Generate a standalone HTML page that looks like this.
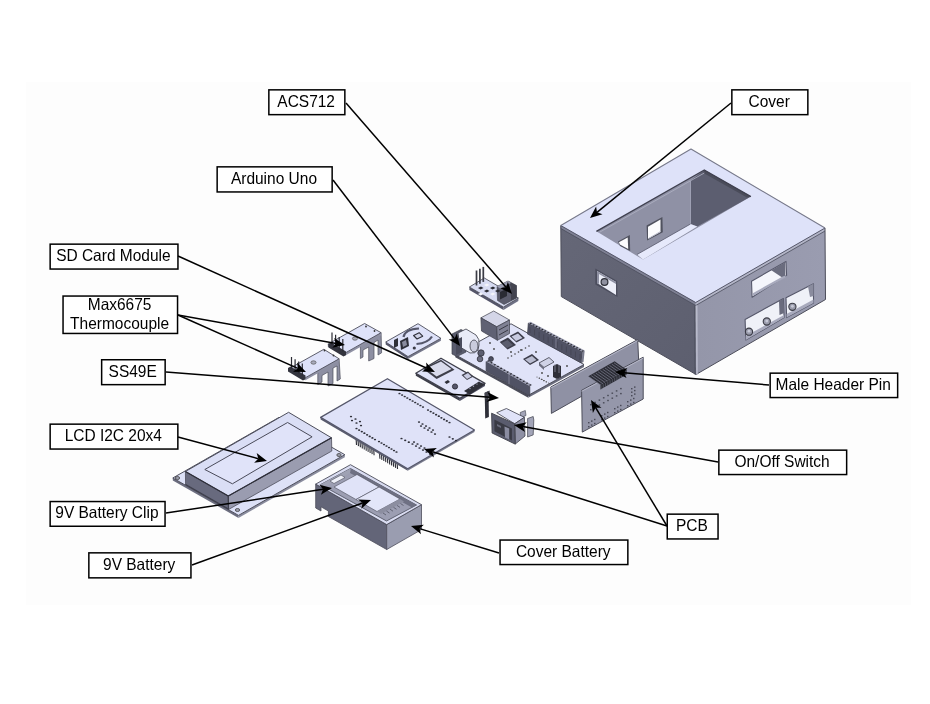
<!DOCTYPE html>
<html><head><meta charset="utf-8"><style>
html,body{margin:0;padding:0;background:#fff;width:930px;height:704px;overflow:hidden}
svg{display:block;will-change:transform}
text{font-family:"Liberation Sans",sans-serif;font-size:15.5px;fill:#000}
</style></head><body>
<svg width="930" height="704" viewBox="0 0 930 704">
<rect x="0" y="0" width="930" height="704" fill="#fff"/>
<rect x="26" y="82" width="885" height="523" fill="#fdfdfd"/>
<defs><linearGradient id="gl" x1="0" y1="0" x2="1" y2="1"><stop offset="0" stop-color="#656777"/><stop offset="1" stop-color="#5d5f6f"/></linearGradient><linearGradient id="gr" x1="0" y1="0" x2="1" y2="0"><stop offset="0" stop-color="#9496a9"/><stop offset="1" stop-color="#9a9cb0"/></linearGradient></defs>
<polygon points="560.8,225.5 695.7,302.5 696.0,374.5 561.3,296.6" fill="url(#gl)" />
<polygon points="695.7,302.5 825.0,228.0 825.5,299.5 696.0,374.5" fill="url(#gr)" />
<polygon points="691.0,149.0 825.0,228.0 695.7,302.5 560.8,225.5" fill="#dee2f9" />
<polygon points="560.8,225.5 695.7,302.5 695.7,305.5 560.8,228.5" fill="#7f8194" />
<polygon points="695.7,302.5 825.0,228.0 825.0,231.0 695.7,305.5" fill="#b4b6c8" />
<polyline points="560.8,225.5 695.7,302.5 825.0,228.0" fill="none" stroke="#55576a" stroke-width="1.0" stroke-linejoin="round"/>
<polyline points="560.8,228.5 695.7,305.5 825.0,231.0" fill="none" stroke="#4a4c5c" stroke-width="0.8" stroke-linejoin="round"/>
<polyline points="560.8,225.5 561.3,296.6 696.0,374.5 825.5,299.5 825.0,228.0" fill="none" stroke="#4c4d5a" stroke-width="1" stroke-linejoin="round"/>
<line x1="696.7" y1="305.5" x2="697" y2="374.5" stroke="#b8bacb" stroke-width="1.6"/>
<line x1="694.7" y1="305.5" x2="695" y2="374.5" stroke="#4a4c5c" stroke-width="0.8"/>
<polyline points="560.8,225.5 691.0,149.0 825.0,228.0" fill="none" stroke="#77798a" stroke-width="1.1" stroke-linejoin="round"/>
<polygon points="596.4,231.3 704.3,170.0 750.9,196.6 643.0,259.6" fill="#8f91a5" />
<polygon points="690.5,180.5 704.3,170.0 750.9,196.6 697.3,226.5 690.5,224.0" fill="#5c5e70" />
<polygon points="704.3,170.0 750.9,196.6 747.0,197.5 703.5,173.0" fill="#4a4c5a" />
<line x1="690.5" y1="181" x2="690.5" y2="224" stroke="#b0b2c4" stroke-width="0.7"/>
<polygon points="637.0,254.5 690.5,224.0 697.3,226.5 643.0,259.6" fill="#e6e9fb" />
<line x1="637" y1="254.5" x2="690.5" y2="224" stroke="#55576a" stroke-width="0.8"/>
<polyline points="596.4,231.3 704.3,170.0 750.9,196.6" fill="none" stroke="#404150" stroke-width="1.4" stroke-linejoin="round"/>
<polyline points="599.4,232.3 704.3,173.0" fill="none" stroke="#b0b2c4" stroke-width="0.8" stroke-linejoin="round"/>
<polygon points="646.6,225.4 662.4,217.1 662.8,232.3 647.1,240.6" fill="#50525f" />
<polygon points="648.0,226.8 660.5,219.4 660.5,231.9 648.0,238.8" fill="#fcfcfe" />
<line x1="648.5" y1="238.5" x2="660.5" y2="231.5" stroke="#b8bacb" stroke-width="1"/>
<polygon points="618.0,241.5 629.8,235.0 630.2,251.0 620.0,246.0" fill="#50525f" />
<polygon points="618.9,242.3 627.7,237.5 628.2,249.0 619.9,244.5" fill="#fcfcfe" />
<polygon points="595.3,268.5 617.2,281.0 617.5,296.9 595.3,284.4" fill="#4c4e5e" />
<polygon points="597.0,271.0 616.0,282.0 616.0,295.0 597.0,283.0" fill="#eceef8" />
<polygon points="597.0,271.0 616.0,282.0 616.0,284.0 599.0,274.0 599.0,284.0 597.0,283.0" fill="#8e90a2" />
<circle cx="604.5" cy="282" r="3.4" fill="#8f91a0" stroke="#2e2f38" stroke-width="1.2"/>
<polygon points="751.5,281.2 786.0,261.4 786.6,275.4 752.1,297.2" fill="#f4f5fb" stroke="#55576a" stroke-width="1.1" stroke-linejoin="round" />
<polygon points="771.3,270.3 785.4,262.0 785.4,276.1 782.2,277.4" fill="#6a6c7e" />
<polygon points="752.8,293.3 782.2,276.7 785.5,275.5 785.5,277.5 752.8,296.0" fill="#a8aabd" />
<polygon points="745.1,319.5 783.4,298.5 784.1,317.6 745.8,340.0" fill="#eff1f8" stroke="#55576a" stroke-width="1.1" stroke-linejoin="round" />
<polygon points="745.8,336.0 784.0,315.0 784.0,317.6 745.8,340.0" fill="#a8aabd" />
<polygon points="779.0,301.0 783.4,298.5 784.0,313.0 779.5,315.0" fill="#6a6c7e" />
<polygon points="786.0,297.8 813.5,283.8 813.5,302.9 786.6,317.6" fill="#eff1f8" stroke="#55576a" stroke-width="1.1" stroke-linejoin="round" />
<polygon points="786.6,314.0 813.5,299.5 813.5,302.9 786.6,317.6" fill="#a8aabd" />
<polygon points="808.0,286.5 813.5,283.8 813.5,296.0 810.0,297.0" fill="#8a8c9e" />
<circle cx="749" cy="331.7" r="3.6" fill="#9a9cac" stroke="#3a3b45" stroke-width="1.1"/>
<circle cx="749" cy="331.2" r="1.4" fill="#c8cad8"/>
<circle cx="766.8" cy="321.5" r="3.6" fill="#9a9cac" stroke="#3a3b45" stroke-width="1.1"/>
<circle cx="766.8" cy="321.0" r="1.4" fill="#c8cad8"/>
<circle cx="792.4" cy="306.8" r="3.6" fill="#9a9cac" stroke="#3a3b45" stroke-width="1.1"/>
<circle cx="792.4" cy="306.3" r="1.4" fill="#c8cad8"/>
<polygon points="469.4,287.0 503.5,307.0 503.5,310.0 469.4,290.0" fill="#55566a" />
<polygon points="503.5,307.0 518.4,298.0 518.4,301.0 503.5,310.0" fill="#6f7185" />
<polygon points="469.4,287.0 484.3,278.0 518.4,298.0 503.5,307.0" fill="#d8dcf2" stroke="#3e3f4a" stroke-width="0.8" stroke-linejoin="round" />
<polygon points="497.0,286.5 508.0,281.0 516.5,285.5 516.5,298.0 504.0,304.5 497.5,300.5" fill="#5b5c6c" stroke="#3e3f4a" stroke-width="0.6" stroke-linejoin="round" />
<polygon points="508.0,281.0 516.5,285.5 516.5,298.0 511.0,300.5 511.0,287.0" fill="#434450" />
<polygon points="497.0,286.5 508.0,281.0 511.0,283.0 500.0,288.5" fill="#9c9eb2" />
<polygon points="500.0,292.0 507.0,288.5 507.0,296.0 500.0,299.5" fill="#2a2b33" />
<line x1="476.5" y1="285.5" x2="476.5" y2="270.5" stroke="#3a3b44" stroke-width="1.7"/>
<line x1="479.9" y1="283.7" x2="479.9" y2="268.7" stroke="#3a3b44" stroke-width="1.7"/>
<line x1="483.3" y1="281.9" x2="483.3" y2="266.9" stroke="#3a3b44" stroke-width="1.7"/>
<polygon points="478.0,288.0 481.0,286.5 483.5,288.0 480.5,289.5" fill="#2a2b33" />
<polygon points="484.0,285.0 487.0,283.5 489.5,285.0 486.5,286.5" fill="#f4f5fb" />
<polygon points="484.0,291.0 487.0,289.5 489.5,291.0 486.5,292.5" fill="#2a2b33" />
<polygon points="490.0,288.0 493.0,286.5 495.5,288.0 492.5,289.5" fill="#2a2b33" />
<polygon points="478.0,294.0 481.0,292.5 483.5,294.0 480.5,295.5" fill="#f4f5fb" />
<polygon points="490.0,294.0 493.0,292.5 495.5,294.0 492.5,295.5" fill="#f4f5fb" />
<polygon points="495.0,291.0 498.0,289.5 500.5,291.0 497.5,292.5" fill="#2a2b33" />
<polygon points="385.7,342.0 408.0,356.6 408.0,359.1 385.7,344.5" fill="#55566a" />
<polygon points="408.0,356.6 440.9,338.3 440.9,340.8 408.0,359.1" fill="#75778a" />
<polygon points="385.7,342.0 418.0,323.7 440.9,338.3 408.0,356.6" fill="#dee2f9" stroke="#4c4d5a" stroke-width="0.9" stroke-linejoin="round" />
<path d="M403.5,337 Q405,329 419,328.5" fill="none" stroke="#55576a" stroke-width="2.2"/>
<path d="M416.5,344 Q428,343 432,336.5" fill="none" stroke="#55576a" stroke-width="2.2"/>
<polygon points="413.6,335.5 419.2,332.7 422.7,336.2 417.0,339.0" fill="#d0d3e8" stroke="#2e2f38" stroke-width="1.1" stroke-linejoin="round" />
<polygon points="394.0,340.0 398.0,338.0 398.0,346.0 394.0,348.0" fill="#2e2f38" />
<polygon points="400.0,341.0 408.0,337.0 409.0,346.0 401.0,350.0" fill="#2e2f38" />
<polygon points="402.0,342.0 406.0,340.0 407.0,345.0 403.0,347.0" fill="#8a8c9e" />
<circle cx="414.3" cy="348" r="1.6" fill="#3a3b46"/>
<polygon points="360.4,344.2 381.1,332.7 381.6,352.8 378.0,355.0 378.0,340.0 374.0,342.5 374.0,358.5 368.7,361.0 368.7,347.0 363.0,350.0 363.0,357.0 360.4,358.5" fill="#8d8fa2" stroke="#4c4d5a" stroke-width="0.7" stroke-linejoin="round" />
<polygon points="327.9,344.2 344.5,353.4 344.5,355.9 327.9,346.7" fill="#696b7e" />
<polygon points="344.5,353.4 381.1,332.7 381.1,335.2 344.5,355.9" fill="#8f91a4" />
<polygon points="327.9,344.2 364.6,323.5 381.1,332.7 344.5,353.4" fill="#dee2f9" stroke="#4c4d5a" stroke-width="0.9" stroke-linejoin="round" />
<ellipse cx="355" cy="338.5" rx="2.6" ry="1.7" fill="#a9abbc" stroke="#555" stroke-width="0.7"/>
<circle cx="366" cy="326.5" r="0.9" fill="#333"/><circle cx="374.5" cy="331" r="0.9" fill="#333"/>
<polygon points="328.5,344.0 331.0,342.5 346.0,351.5 346.0,355.0 343.5,356.5 328.5,347.5" fill="#33343e" />
<line x1="332.0" y1="345.0" x2="332.0" y2="332.5" stroke="#2a2b33" stroke-width="1.2"/>
<line x1="335.6" y1="347.2" x2="335.6" y2="334.7" stroke="#2a2b33" stroke-width="1.2"/>
<line x1="339.2" y1="349.4" x2="339.2" y2="336.9" stroke="#2a2b33" stroke-width="1.2"/>
<line x1="342.8" y1="351.6" x2="342.8" y2="339.1" stroke="#2a2b33" stroke-width="1.2"/>
<polygon points="317.8,370.5 339.1,358.8 340.3,379.0 337.0,381.0 337.0,366.0 333.0,368.0 333.0,383.6 328.0,386.0 328.0,372.0 322.0,375.5 322.0,382.0 317.8,384.5" fill="#8d8fa2" stroke="#4c4d5a" stroke-width="0.7" stroke-linejoin="round" />
<polygon points="290.0,368.2 305.4,377.7 305.4,380.2 290.0,370.7" fill="#696b7e" />
<polygon points="305.4,377.7 339.1,358.8 339.1,361.3 305.4,380.2" fill="#8f91a4" />
<polygon points="290.0,368.2 323.8,349.3 339.1,358.8 305.4,377.7" fill="#dee2f9" stroke="#4c4d5a" stroke-width="0.9" stroke-linejoin="round" />
<ellipse cx="313.5" cy="362.5" rx="2.6" ry="1.7" fill="#a9abbc" stroke="#555" stroke-width="0.7"/>
<circle cx="324.5" cy="350.5" r="0.9" fill="#333"/><circle cx="333.5" cy="355.5" r="0.9" fill="#333"/>
<polygon points="288.0,368.0 290.5,366.5 305.5,375.5 305.5,379.0 303.0,380.5 288.0,371.5" fill="#33343e" />
<line x1="291.5" y1="369.0" x2="291.5" y2="357.0" stroke="#2a2b33" stroke-width="1.2"/>
<line x1="295.1" y1="371.2" x2="295.1" y2="359.2" stroke="#2a2b33" stroke-width="1.2"/>
<line x1="298.7" y1="373.4" x2="298.7" y2="361.4" stroke="#2a2b33" stroke-width="1.2"/>
<line x1="302.3" y1="375.6" x2="302.3" y2="363.6" stroke="#2a2b33" stroke-width="1.2"/>
<polygon points="415.8,373.2 459.8,398.4 459.8,400.9 415.8,375.7" fill="#3e3f4a" />
<polygon points="459.8,398.4 485.0,383.4 485.0,385.9 459.8,400.9" fill="#55566a" />
<polygon points="415.8,373.2 441.0,358.2 485.0,383.4 459.8,398.4" fill="#e0e3f8" stroke="#3e3f4a" stroke-width="1.3" stroke-linejoin="round" />
<polygon points="422.6,368.4 441.0,359.7 454.5,369.8 436.6,379.0" fill="#3e3f4a" />
<polygon points="426.0,368.5 441.0,361.5 451.5,369.0 436.6,376.5" fill="#d9dbec" />
<polygon points="461.5,375.0 468.0,371.5 473.5,376.5 467.0,380.0" fill="#3e3f4a" />
<polygon points="463.5,375.5 468.0,373.0 471.5,376.5 467.0,379.0" fill="#c9cce2" />
<polygon points="444.5,382.0 448.0,380.0 450.0,382.0 446.5,384.0" fill="#2e2f38" />
<circle cx="455" cy="386.5" r="2.6" fill="#55566a" stroke="#2e2f38" stroke-width="0.9"/>
<polygon points="464.0,391.0 479.0,381.5 485.0,384.5 470.0,394.5" fill="#2e2f38" />
<circle cx="470.0" cy="388.5" r="0.7" fill="#9fa2b5"/>
<circle cx="473.5" cy="386.3" r="0.7" fill="#9fa2b5"/>
<circle cx="477.0" cy="384.1" r="0.7" fill="#9fa2b5"/>
<circle cx="480.5" cy="381.9" r="0.7" fill="#9fa2b5"/>
<polygon points="455.3,354.7 528.3,395.3 528.3,397.8 455.3,357.2" fill="#4c4d5a" />
<polygon points="528.3,395.3 584.0,364.5 584.0,367.0 528.3,397.8" fill="#6a6c7e" />
<polygon points="455.3,354.7 511.0,323.8 584.0,364.5 528.3,395.3" fill="#e0e3f8" stroke="#3e3f4a" stroke-width="0.9" stroke-linejoin="round" />
<polygon points="528.3,323.1 582.5,351.7 581.5,363.0 527.5,334.0" fill="#505264" stroke="#3e3f4a" stroke-width="0.7" stroke-linejoin="round" />
<polygon points="528.3,323.1 530.5,321.8 584.7,350.4 582.5,351.7" fill="#9a9cb0" />
<polygon points="584.7,350.4 582.5,351.7 581.5,363.0 583.5,362.0" fill="#7a7c8e" />
<polygon points="529.5,323.5 531.0,322.7 532.0,323.5 530.5,324.3" fill="#1e1f26" />
<polygon points="532.4,325.0 533.9,324.2 534.9,325.0 533.4,325.8" fill="#1e1f26" />
<polygon points="535.3,326.6 536.8,325.8 537.8,326.6 536.3,327.4" fill="#1e1f26" />
<polygon points="538.2,328.1 539.7,327.3 540.7,328.1 539.2,328.9" fill="#1e1f26" />
<polygon points="541.1,329.6 542.6,328.8 543.6,329.6 542.1,330.4" fill="#1e1f26" />
<polygon points="543.9,331.1 545.4,330.3 546.4,331.1 544.9,331.9" fill="#1e1f26" />
<polygon points="546.8,332.7 548.3,331.9 549.3,332.7 547.8,333.5" fill="#1e1f26" />
<polygon points="549.7,334.2 551.2,333.4 552.2,334.2 550.7,335.0" fill="#1e1f26" />
<polygon points="552.6,335.7 554.1,334.9 555.1,335.7 553.6,336.5" fill="#1e1f26" />
<polygon points="555.5,337.2 557.0,336.4 558.0,337.2 556.5,338.1" fill="#1e1f26" />
<polygon points="558.4,338.8 559.9,338.0 560.9,338.8 559.4,339.6" fill="#1e1f26" />
<polygon points="561.3,340.3 562.8,339.5 563.8,340.3 562.3,341.1" fill="#1e1f26" />
<polygon points="564.2,341.8 565.7,341.0 566.7,341.8 565.2,342.6" fill="#1e1f26" />
<polygon points="567.1,343.4 568.6,342.6 569.6,343.4 568.1,344.2" fill="#1e1f26" />
<polygon points="569.9,344.9 571.4,344.1 572.4,344.9 570.9,345.7" fill="#1e1f26" />
<polygon points="572.8,346.4 574.3,345.6 575.3,346.4 573.8,347.2" fill="#1e1f26" />
<polygon points="575.7,347.9 577.2,347.1 578.2,347.9 576.7,348.7" fill="#1e1f26" />
<polygon points="578.6,349.5 580.1,348.7 581.1,349.5 579.6,350.3" fill="#1e1f26" />
<polygon points="581.5,351.0 583.0,350.2 584.0,351.0 582.5,351.8" fill="#1e1f26" />
<line x1="556" y1="338" x2="556" y2="348" stroke="#8a8ca0" stroke-width="0.8"/>
<line x1="530.0" y1="327.0" x2="530.0" y2="333.0" stroke="#3c3d48" stroke-width="0.5"/>
<line x1="534.5454545454545" y1="329.45454545454544" x2="534.5454545454545" y2="335.45454545454544" stroke="#3c3d48" stroke-width="0.5"/>
<line x1="539.0909090909091" y1="331.90909090909093" x2="539.0909090909091" y2="337.90909090909093" stroke="#3c3d48" stroke-width="0.5"/>
<line x1="543.6363636363636" y1="334.3636363636364" x2="543.6363636363636" y2="340.3636363636364" stroke="#3c3d48" stroke-width="0.5"/>
<line x1="548.1818181818181" y1="336.8181818181818" x2="548.1818181818181" y2="342.8181818181818" stroke="#3c3d48" stroke-width="0.5"/>
<line x1="552.7272727272727" y1="339.27272727272725" x2="552.7272727272727" y2="345.27272727272725" stroke="#3c3d48" stroke-width="0.5"/>
<line x1="557.2727272727273" y1="341.72727272727275" x2="557.2727272727273" y2="347.72727272727275" stroke="#3c3d48" stroke-width="0.5"/>
<line x1="561.8181818181819" y1="344.1818181818182" x2="561.8181818181819" y2="350.1818181818182" stroke="#3c3d48" stroke-width="0.5"/>
<line x1="566.3636363636364" y1="346.6363636363636" x2="566.3636363636364" y2="352.6363636363636" stroke="#3c3d48" stroke-width="0.5"/>
<line x1="570.9090909090909" y1="349.0909090909091" x2="570.9090909090909" y2="355.0909090909091" stroke="#3c3d48" stroke-width="0.5"/>
<line x1="575.4545454545455" y1="351.54545454545456" x2="575.4545454545455" y2="357.54545454545456" stroke="#3c3d48" stroke-width="0.5"/>
<line x1="580.0" y1="354.0" x2="580.0" y2="360.0" stroke="#3c3d48" stroke-width="0.5"/>
<polygon points="486.1,361.5 529.8,386.3 529.8,396.0 486.1,371.0" fill="#505264" stroke="#3e3f4a" stroke-width="0.7" stroke-linejoin="round" />
<polygon points="486.1,361.5 488.5,360.2 532.2,385.0 529.8,386.3" fill="#9a9cb0" />
<polygon points="487.0,361.0 488.5,360.2 489.5,361.0 488.0,361.8" fill="#1e1f26" />
<polygon points="490.2,362.8 491.7,362.0 492.7,362.8 491.2,363.6" fill="#1e1f26" />
<polygon points="493.5,364.7 495.0,363.9 496.0,364.7 494.5,365.5" fill="#1e1f26" />
<polygon points="496.7,366.5 498.2,365.7 499.2,366.5 497.7,367.3" fill="#1e1f26" />
<polygon points="499.9,368.4 501.4,367.6 502.4,368.4 500.9,369.2" fill="#1e1f26" />
<polygon points="503.2,370.2 504.7,369.4 505.7,370.2 504.2,371.0" fill="#1e1f26" />
<polygon points="506.4,372.1 507.9,371.3 508.9,372.1 507.4,372.9" fill="#1e1f26" />
<polygon points="509.6,373.9 511.1,373.1 512.1,373.9 510.6,374.7" fill="#1e1f26" />
<polygon points="512.8,375.8 514.3,375.0 515.3,375.8 513.8,376.6" fill="#1e1f26" />
<polygon points="516.1,377.6 517.6,376.8 518.6,377.6 517.1,378.4" fill="#1e1f26" />
<polygon points="519.3,379.5 520.8,378.7 521.8,379.5 520.3,380.3" fill="#1e1f26" />
<polygon points="522.5,381.3 524.0,380.5 525.0,381.3 523.5,382.1" fill="#1e1f26" />
<polygon points="525.8,383.2 527.3,382.4 528.3,383.2 526.8,384.0" fill="#1e1f26" />
<polygon points="529.0,385.0 530.5,384.2 531.5,385.0 530.0,385.8" fill="#1e1f26" />
<line x1="509" y1="374" x2="509" y2="384" stroke="#8a8ca0" stroke-width="0.8"/>
<polygon points="480.9,317.8 493.7,311.0 509.5,320.0 496.7,326.8" fill="#d4d6e8" stroke="#3e3f4a" stroke-width="0.7" stroke-linejoin="round" />
<polygon points="480.9,317.8 496.7,326.8 497.4,340.3 481.5,331.0" fill="#5f6173" stroke="#3e3f4a" stroke-width="0.7" stroke-linejoin="round" />
<polygon points="496.7,326.8 509.5,320.0 509.5,333.5 497.4,340.3" fill="#808295" stroke="#3e3f4a" stroke-width="0.7" stroke-linejoin="round" />
<line x1="499" y1="330" x2="508" y2="325" stroke="#3a3b46" stroke-width="1"/>
<line x1="499" y1="335" x2="508" y2="330" stroke="#3a3b46" stroke-width="1"/>
<polygon points="452.0,334.0 461.0,329.5 466.0,332.0 466.0,352.0 457.0,356.5 452.0,354.0" fill="#5a5c6e" stroke="#3e3f4a" stroke-width="0.7" stroke-linejoin="round" />
<path d="M458,333 L466,329 L476,335 Q480,339 479,345 L478,350 Q475,354 470,353 L460,347 Z" fill="#e9ebf7" stroke="#3a3b46" stroke-width="0.8"/>
<ellipse cx="474" cy="346" rx="4" ry="6" fill="#c9cbdc" stroke="#3a3b46" stroke-width="0.8"/>
<polygon points="456.0,340.0 462.0,337.0 462.0,352.0 456.0,355.0" fill="#4a4c5c" />
<polygon points="499.7,342.0 508.0,337.5 516.0,345.0 507.5,349.5" fill="#3c3d4a" />
<polygon points="501.5,343.0 507.5,340.0 513.0,345.0 507.0,348.0" fill="#5c5e6e" />
<polygon points="509.5,336.0 518.0,331.5 525.0,338.0 516.5,342.5" fill="#3c3d4a" />
<polygon points="511.5,336.5 518.0,333.5 522.5,338.0 516.0,341.0" fill="#c8cbe0" />
<polygon points="523.0,359.0 532.0,354.0 539.0,360.0 530.0,365.0" fill="#3c3d4a" />
<polygon points="525.0,359.5 532.0,356.0 536.5,360.0 530.0,363.5" fill="#b9bcd0" />
<polygon points="539.0,363.0 549.0,357.5 554.0,362.0 544.0,367.5" fill="#cfd2e6" stroke="#3e3f4a" stroke-width="0.8" stroke-linejoin="round" />
<polygon points="539.0,363.0 544.0,367.5 544.0,370.0 539.0,365.5" fill="#6a6c7e" />
<circle cx="481" cy="353" r="3.2" fill="#5c5e70" stroke="#2e2f38" stroke-width="0.8"/>
<circle cx="480" cy="359" r="2.8" fill="#6c6e80" stroke="#2e2f38" stroke-width="0.8"/>
<circle cx="491" cy="359" r="2.4" fill="#4c4e60" stroke="#2e2f38" stroke-width="0.8"/>
<polygon points="553.0,366.0 557.0,364.0 561.0,366.0 561.0,377.0 557.0,379.0 553.0,377.0" fill="#2e2f38" />
<line x1="555" y1="364" x2="555" y2="372" stroke="#8a8c9c" stroke-width="0.8"/>
<line x1="559" y1="365" x2="559" y2="373" stroke="#8a8c9c" stroke-width="0.8"/>
<circle cx="490" cy="343" r="0.9" fill="#444"/>
<circle cx="494" cy="349" r="0.9" fill="#444"/>
<circle cx="511" cy="352" r="0.9" fill="#444"/>
<circle cx="521" cy="350" r="0.9" fill="#444"/>
<circle cx="536" cy="352" r="0.9" fill="#444"/>
<circle cx="567" cy="366" r="0.9" fill="#444"/>
<circle cx="542" cy="373" r="0.9" fill="#444"/>
<circle cx="548" cy="376" r="0.9" fill="#444"/>
<circle cx="508.0" cy="358.0" r="0.8" fill="#444"/>
<circle cx="511.5" cy="356.0" r="0.8" fill="#444"/>
<circle cx="515.0" cy="354.0" r="0.8" fill="#444"/>
<circle cx="518.5" cy="352.0" r="0.8" fill="#444"/>
<circle cx="522.0" cy="350.0" r="0.8" fill="#444"/>
<circle cx="525.5" cy="348.0" r="0.8" fill="#444"/>
<circle cx="529.0" cy="346.0" r="0.8" fill="#444"/>
<circle cx="537.0" cy="377.0" r="0.6" fill="#555"/>
<circle cx="539.2" cy="378.2" r="0.6" fill="#555"/>
<circle cx="541.4" cy="379.4" r="0.6" fill="#555"/>
<circle cx="543.6" cy="380.6" r="0.6" fill="#555"/>
<circle cx="539.5" cy="378.2" r="0.6" fill="#555"/>
<circle cx="541.7" cy="379.4" r="0.6" fill="#555"/>
<circle cx="543.9" cy="380.6" r="0.6" fill="#555"/>
<circle cx="546.1" cy="381.8" r="0.6" fill="#555"/>
<circle cx="542.0" cy="379.4" r="0.6" fill="#555"/>
<circle cx="544.2" cy="380.6" r="0.6" fill="#555"/>
<circle cx="546.4" cy="381.8" r="0.6" fill="#555"/>
<circle cx="548.6" cy="383.0" r="0.6" fill="#555"/>
<polygon points="484.7,392.8 488.5,391.0 488.9,416.9 485.2,418.5" fill="#2e2f38" />
<polygon points="484.5,393.0 489.5,390.5 490.5,397.0 485.0,399.5" fill="#44454f" />
<polygon points="550.8,387.0 637.7,339.6 638.8,363.8 551.4,413.4" fill="#8f91a4" stroke="#4c4d5a" stroke-width="1" stroke-linejoin="round" />
<line x1="550.8" y1="388" x2="637.7" y2="340.6" stroke="#c0c2d2" stroke-width="0.8"/>
<polygon points="581.6,390.3 643.2,357.2 643.2,399.0 582.3,432.1" fill="#9597aa" stroke="#4c4d5a" stroke-width="1" stroke-linejoin="round" />
<line x1="581.6" y1="391.3" x2="643.2" y2="358.2" stroke="#c0c2d2" stroke-width="0.8"/>
<polygon points="600.4,384.7 626.7,369.8 626.7,374.5 600.4,389.4" fill="#2a2b33" />
<polygon points="588.3,376.2 614.6,361.3 626.7,369.8 600.4,384.7" fill="#2c2d36" />
<line x1="589.0" y1="377.0" x2="600.5" y2="385.0" stroke="#7c7e90" stroke-width="0.7"/>
<line x1="591.2727272727273" y1="375.7090909090909" x2="602.7727272727273" y2="383.7090909090909" stroke="#7c7e90" stroke-width="0.7"/>
<line x1="593.5454545454545" y1="374.41818181818184" x2="605.0454545454545" y2="382.41818181818184" stroke="#7c7e90" stroke-width="0.7"/>
<line x1="595.8181818181819" y1="373.1272727272727" x2="607.3181818181819" y2="381.1272727272727" stroke="#7c7e90" stroke-width="0.7"/>
<line x1="598.0909090909091" y1="371.8363636363636" x2="609.5909090909091" y2="379.8363636363636" stroke="#7c7e90" stroke-width="0.7"/>
<line x1="600.3636363636364" y1="370.54545454545456" x2="611.8636363636364" y2="378.54545454545456" stroke="#7c7e90" stroke-width="0.7"/>
<line x1="602.6363636363636" y1="369.25454545454545" x2="614.1363636363636" y2="377.25454545454545" stroke="#7c7e90" stroke-width="0.7"/>
<line x1="604.9090909090909" y1="367.96363636363634" x2="616.4090909090909" y2="375.96363636363634" stroke="#7c7e90" stroke-width="0.7"/>
<line x1="607.1818181818181" y1="366.6727272727273" x2="618.6818181818181" y2="374.6727272727273" stroke="#7c7e90" stroke-width="0.7"/>
<line x1="609.4545454545455" y1="365.3818181818182" x2="620.9545454545455" y2="373.3818181818182" stroke="#7c7e90" stroke-width="0.7"/>
<line x1="611.7272727272727" y1="364.09090909090907" x2="623.2272727272727" y2="372.09090909090907" stroke="#7c7e90" stroke-width="0.7"/>
<line x1="614.0" y1="362.8" x2="625.5" y2="370.8" stroke="#7c7e90" stroke-width="0.7"/>
<line x1="601.0" y1="385.5" x2="601.0" y2="389.3" stroke="#6a6c7c" stroke-width="0.6"/>
<line x1="603.2727272727273" y1="384.2090909090909" x2="603.2727272727273" y2="388.0090909090909" stroke="#6a6c7c" stroke-width="0.6"/>
<line x1="605.5454545454545" y1="382.91818181818184" x2="605.5454545454545" y2="386.71818181818185" stroke="#6a6c7c" stroke-width="0.6"/>
<line x1="607.8181818181819" y1="381.6272727272727" x2="607.8181818181819" y2="385.42727272727274" stroke="#6a6c7c" stroke-width="0.6"/>
<line x1="610.0909090909091" y1="380.3363636363636" x2="610.0909090909091" y2="384.1363636363636" stroke="#6a6c7c" stroke-width="0.6"/>
<line x1="612.3636363636364" y1="379.04545454545456" x2="612.3636363636364" y2="382.8454545454546" stroke="#6a6c7c" stroke-width="0.6"/>
<line x1="614.6363636363636" y1="377.75454545454545" x2="614.6363636363636" y2="381.55454545454546" stroke="#6a6c7c" stroke-width="0.6"/>
<line x1="616.9090909090909" y1="376.46363636363634" x2="616.9090909090909" y2="380.26363636363635" stroke="#6a6c7c" stroke-width="0.6"/>
<line x1="619.1818181818181" y1="375.1727272727273" x2="619.1818181818181" y2="378.9727272727273" stroke="#6a6c7c" stroke-width="0.6"/>
<line x1="621.4545454545455" y1="373.8818181818182" x2="621.4545454545455" y2="377.6818181818182" stroke="#6a6c7c" stroke-width="0.6"/>
<line x1="623.7272727272727" y1="372.59090909090907" x2="623.7272727272727" y2="376.3909090909091" stroke="#6a6c7c" stroke-width="0.6"/>
<line x1="626.0" y1="371.3" x2="626.0" y2="375.1" stroke="#6a6c7c" stroke-width="0.6"/>
<rect x="590.0" y="404.0" width="1.6" height="1.4" fill="#4a4b58"/>
<rect x="594.3" y="401.7" width="1.6" height="1.4" fill="#4a4b58"/>
<rect x="598.6" y="399.4" width="1.6" height="1.4" fill="#4a4b58"/>
<rect x="602.9" y="397.1" width="1.6" height="1.4" fill="#4a4b58"/>
<rect x="607.2" y="394.8" width="1.6" height="1.4" fill="#4a4b58"/>
<rect x="611.5" y="392.5" width="1.6" height="1.4" fill="#4a4b58"/>
<rect x="615.8" y="390.2" width="1.6" height="1.4" fill="#4a4b58"/>
<rect x="620.1" y="387.9" width="1.6" height="1.4" fill="#4a4b58"/>
<rect x="590.0" y="409.0" width="1.6" height="1.4" fill="#4a4b58"/>
<rect x="594.3" y="406.7" width="1.6" height="1.4" fill="#4a4b58"/>
<rect x="598.6" y="404.4" width="1.6" height="1.4" fill="#4a4b58"/>
<rect x="602.9" y="402.1" width="1.6" height="1.4" fill="#4a4b58"/>
<rect x="607.2" y="399.8" width="1.6" height="1.4" fill="#4a4b58"/>
<rect x="611.5" y="397.5" width="1.6" height="1.4" fill="#4a4b58"/>
<rect x="615.8" y="395.2" width="1.6" height="1.4" fill="#4a4b58"/>
<rect x="620.1" y="392.9" width="1.6" height="1.4" fill="#4a4b58"/>
<rect x="588.0" y="422.0" width="1.5" height="1.4" fill="#4a4b58"/>
<rect x="591.0" y="420.4" width="1.5" height="1.4" fill="#4a4b58"/>
<rect x="594.0" y="418.8" width="1.5" height="1.4" fill="#4a4b58"/>
<rect x="588.0" y="426.0" width="1.5" height="1.4" fill="#4a4b58"/>
<rect x="591.0" y="424.4" width="1.5" height="1.4" fill="#4a4b58"/>
<rect x="594.0" y="422.8" width="1.5" height="1.4" fill="#4a4b58"/>
<rect x="601.0" y="415.0" width="1.5" height="1.4" fill="#4a4b58"/>
<rect x="604.0" y="413.4" width="1.5" height="1.4" fill="#4a4b58"/>
<rect x="607.0" y="411.8" width="1.5" height="1.4" fill="#4a4b58"/>
<rect x="601.0" y="419.0" width="1.5" height="1.4" fill="#4a4b58"/>
<rect x="604.0" y="417.4" width="1.5" height="1.4" fill="#4a4b58"/>
<rect x="607.0" y="415.8" width="1.5" height="1.4" fill="#4a4b58"/>
<rect x="614.0" y="408.0" width="1.5" height="1.4" fill="#4a4b58"/>
<rect x="617.0" y="406.4" width="1.5" height="1.4" fill="#4a4b58"/>
<rect x="620.0" y="404.8" width="1.5" height="1.4" fill="#4a4b58"/>
<rect x="614.0" y="412.0" width="1.5" height="1.4" fill="#4a4b58"/>
<rect x="617.0" y="410.4" width="1.5" height="1.4" fill="#4a4b58"/>
<rect x="620.0" y="408.8" width="1.5" height="1.4" fill="#4a4b58"/>
<rect x="627.0" y="401.0" width="1.5" height="1.4" fill="#4a4b58"/>
<rect x="630.0" y="399.4" width="1.5" height="1.4" fill="#4a4b58"/>
<rect x="633.0" y="397.8" width="1.5" height="1.4" fill="#4a4b58"/>
<rect x="627.0" y="405.0" width="1.5" height="1.4" fill="#4a4b58"/>
<rect x="630.0" y="403.4" width="1.5" height="1.4" fill="#4a4b58"/>
<rect x="633.0" y="401.8" width="1.5" height="1.4" fill="#4a4b58"/>
<rect x="631.0" y="388.0" width="1.5" height="1.4" fill="#4a4b58"/>
<rect x="634.0" y="386.4" width="1.5" height="1.4" fill="#4a4b58"/>
<rect x="631.0" y="391.5" width="1.5" height="1.4" fill="#4a4b58"/>
<rect x="634.0" y="389.9" width="1.5" height="1.4" fill="#4a4b58"/>
<rect x="631.0" y="395.0" width="1.5" height="1.4" fill="#4a4b58"/>
<rect x="634.0" y="393.4" width="1.5" height="1.4" fill="#4a4b58"/>
<polygon points="527.6,418.5 533.2,416.5 533.8,420.0 533.2,434.9 527.6,437.0" fill="#a3a5b8" stroke="#3e3f4a" stroke-width="0.7" stroke-linejoin="round" />
<polygon points="520.2,412.5 525.3,410.5 526.0,415.5 521.0,417.5" fill="#a3a5b8" stroke="#3e3f4a" stroke-width="0.6" stroke-linejoin="round" />
<polygon points="496.7,412.7 506.4,408.5 524.4,417.3 514.7,423.8" fill="#e0e3f8" stroke="#3e3f4a" stroke-width="0.8" stroke-linejoin="round" />
<polygon points="514.7,423.8 524.4,417.3 525.0,436.0 515.2,444.1" fill="#8e90a4" stroke="#3e3f4a" stroke-width="0.8" stroke-linejoin="round" />
<polygon points="491.6,413.2 514.7,423.8 515.2,444.1 492.1,433.0" fill="#5a5c6e" stroke="#3e3f4a" stroke-width="0.9" stroke-linejoin="round" />
<polygon points="494.4,419.6 511.9,428.4 511.9,440.4 494.4,431.2" fill="#393a44" />
<polygon points="504.5,426.5 509.2,428.4 509.2,439.5 505.0,437.6" fill="#8a8ca0" />
<polygon points="497.0,424.0 501.0,426.0 501.0,428.0 497.0,426.0" fill="#6a6c7c" />
<line x1="356.0" y1="437.0" x2="356.5" y2="445.0" stroke="#2e2f38" stroke-width="1.1"/>
<line x1="357.95238095238096" y1="438.14285714285717" x2="358.45238095238096" y2="446.14285714285717" stroke="#2e2f38" stroke-width="1.1"/>
<line x1="359.9047619047619" y1="439.2857142857143" x2="360.4047619047619" y2="447.2857142857143" stroke="#2e2f38" stroke-width="1.1"/>
<line x1="361.85714285714283" y1="440.42857142857144" x2="362.35714285714283" y2="448.42857142857144" stroke="#2e2f38" stroke-width="1.1"/>
<line x1="363.8095238095238" y1="441.57142857142856" x2="364.3095238095238" y2="449.57142857142856" stroke="#2e2f38" stroke-width="1.1"/>
<line x1="365.76190476190476" y1="442.7142857142857" x2="366.26190476190476" y2="450.7142857142857" stroke="#2e2f38" stroke-width="1.1"/>
<line x1="367.7142857142857" y1="443.85714285714283" x2="368.2142857142857" y2="451.85714285714283" stroke="#2e2f38" stroke-width="1.1"/>
<line x1="369.6666666666667" y1="445.0" x2="370.1666666666667" y2="453.0" stroke="#2e2f38" stroke-width="1.1"/>
<line x1="371.6190476190476" y1="446.14285714285717" x2="372.1190476190476" y2="454.14285714285717" stroke="#2e2f38" stroke-width="1.1"/>
<line x1="373.57142857142856" y1="447.2857142857143" x2="374.07142857142856" y2="455.2857142857143" stroke="#2e2f38" stroke-width="1.1"/>
<line x1="379.42857142857144" y1="450.7142857142857" x2="379.92857142857144" y2="458.7142857142857" stroke="#2e2f38" stroke-width="1.1"/>
<line x1="381.3809523809524" y1="451.85714285714283" x2="381.8809523809524" y2="459.85714285714283" stroke="#2e2f38" stroke-width="1.1"/>
<line x1="383.3333333333333" y1="453.0" x2="383.8333333333333" y2="461.0" stroke="#2e2f38" stroke-width="1.1"/>
<line x1="385.2857142857143" y1="454.14285714285717" x2="385.7857142857143" y2="462.14285714285717" stroke="#2e2f38" stroke-width="1.1"/>
<line x1="387.23809523809524" y1="455.2857142857143" x2="387.73809523809524" y2="463.2857142857143" stroke="#2e2f38" stroke-width="1.1"/>
<line x1="389.1904761904762" y1="456.42857142857144" x2="389.6904761904762" y2="464.42857142857144" stroke="#2e2f38" stroke-width="1.1"/>
<line x1="391.1428571428571" y1="457.57142857142856" x2="391.6428571428571" y2="465.57142857142856" stroke="#2e2f38" stroke-width="1.1"/>
<line x1="393.0952380952381" y1="458.7142857142857" x2="393.5952380952381" y2="466.7142857142857" stroke="#2e2f38" stroke-width="1.1"/>
<line x1="395.04761904761904" y1="459.85714285714283" x2="395.54761904761904" y2="467.85714285714283" stroke="#2e2f38" stroke-width="1.1"/>
<line x1="397.0" y1="461.0" x2="397.5" y2="469.0" stroke="#2e2f38" stroke-width="1.1"/>
<polygon points="320.6,417.4 407.7,468.7 407.7,470.7 320.6,419.4" fill="#5b5d6f" />
<polygon points="407.7,468.7 474.5,430.0 474.5,432.0 407.7,470.7" fill="#7d7f91" />
<polygon points="320.6,417.4 387.4,378.7 474.5,430.0 407.7,468.7" fill="#dfe2f8" stroke="#55576a" stroke-width="1.3" stroke-linejoin="round" />
<ellipse cx="399.5" cy="393.5" rx="1.15" ry="0.85" fill="#2e2f38"/>
<ellipse cx="402.1" cy="395.0" rx="1.15" ry="0.85" fill="#2e2f38"/>
<ellipse cx="404.7" cy="396.5" rx="1.15" ry="0.85" fill="#2e2f38"/>
<ellipse cx="407.3" cy="398.0" rx="1.15" ry="0.85" fill="#2e2f38"/>
<ellipse cx="409.9" cy="399.5" rx="1.15" ry="0.85" fill="#2e2f38"/>
<ellipse cx="412.6" cy="401.0" rx="1.15" ry="0.85" fill="#2e2f38"/>
<ellipse cx="415.2" cy="402.5" rx="1.15" ry="0.85" fill="#2e2f38"/>
<ellipse cx="417.8" cy="404.0" rx="1.15" ry="0.85" fill="#2e2f38"/>
<ellipse cx="420.4" cy="405.5" rx="1.15" ry="0.85" fill="#2e2f38"/>
<ellipse cx="423.0" cy="407.0" rx="1.15" ry="0.85" fill="#2e2f38"/>
<ellipse cx="428.0" cy="410.0" rx="1.15" ry="0.85" fill="#2e2f38"/>
<ellipse cx="430.7" cy="411.6" rx="1.15" ry="0.85" fill="#2e2f38"/>
<ellipse cx="433.4" cy="413.1" rx="1.15" ry="0.85" fill="#2e2f38"/>
<ellipse cx="436.1" cy="414.7" rx="1.15" ry="0.85" fill="#2e2f38"/>
<ellipse cx="438.8" cy="416.2" rx="1.15" ry="0.85" fill="#2e2f38"/>
<ellipse cx="441.4" cy="417.8" rx="1.15" ry="0.85" fill="#2e2f38"/>
<ellipse cx="444.1" cy="419.4" rx="1.15" ry="0.85" fill="#2e2f38"/>
<ellipse cx="446.8" cy="420.9" rx="1.15" ry="0.85" fill="#2e2f38"/>
<ellipse cx="449.5" cy="422.5" rx="1.15" ry="0.85" fill="#2e2f38"/>
<ellipse cx="356.5" cy="428.5" rx="1.15" ry="0.85" fill="#2e2f38"/>
<ellipse cx="359.1" cy="430.1" rx="1.15" ry="0.85" fill="#2e2f38"/>
<ellipse cx="361.8" cy="431.6" rx="1.15" ry="0.85" fill="#2e2f38"/>
<ellipse cx="364.4" cy="433.2" rx="1.15" ry="0.85" fill="#2e2f38"/>
<ellipse cx="367.1" cy="434.8" rx="1.15" ry="0.85" fill="#2e2f38"/>
<ellipse cx="369.7" cy="436.4" rx="1.15" ry="0.85" fill="#2e2f38"/>
<ellipse cx="372.4" cy="437.9" rx="1.15" ry="0.85" fill="#2e2f38"/>
<ellipse cx="375.0" cy="439.5" rx="1.15" ry="0.85" fill="#2e2f38"/>
<ellipse cx="379.0" cy="441.5" rx="1.15" ry="0.85" fill="#2e2f38"/>
<ellipse cx="381.5" cy="443.0" rx="1.15" ry="0.85" fill="#2e2f38"/>
<ellipse cx="384.0" cy="444.5" rx="1.15" ry="0.85" fill="#2e2f38"/>
<ellipse cx="386.5" cy="446.0" rx="1.15" ry="0.85" fill="#2e2f38"/>
<ellipse cx="389.0" cy="447.5" rx="1.15" ry="0.85" fill="#2e2f38"/>
<ellipse cx="391.5" cy="449.0" rx="1.15" ry="0.85" fill="#2e2f38"/>
<ellipse cx="394.0" cy="450.5" rx="1.15" ry="0.85" fill="#2e2f38"/>
<ellipse cx="396.5" cy="452.0" rx="1.15" ry="0.85" fill="#2e2f38"/>
<ellipse cx="419.0" cy="422.0" rx="1.15" ry="0.85" fill="#2e2f38"/>
<ellipse cx="422.5" cy="424.0" rx="1.15" ry="0.85" fill="#2e2f38"/>
<ellipse cx="426.0" cy="426.0" rx="1.15" ry="0.85" fill="#2e2f38"/>
<ellipse cx="429.5" cy="428.0" rx="1.15" ry="0.85" fill="#2e2f38"/>
<ellipse cx="433.0" cy="430.0" rx="1.15" ry="0.85" fill="#2e2f38"/>
<ellipse cx="421.0" cy="426.0" rx="1.15" ry="0.85" fill="#2e2f38"/>
<ellipse cx="424.5" cy="428.0" rx="1.15" ry="0.85" fill="#2e2f38"/>
<ellipse cx="428.0" cy="430.0" rx="1.15" ry="0.85" fill="#2e2f38"/>
<ellipse cx="431.5" cy="432.0" rx="1.15" ry="0.85" fill="#2e2f38"/>
<ellipse cx="435.0" cy="434.0" rx="1.15" ry="0.85" fill="#2e2f38"/>
<ellipse cx="414.0" cy="442.0" rx="1.15" ry="0.85" fill="#2e2f38"/>
<ellipse cx="417.5" cy="444.0" rx="1.15" ry="0.85" fill="#2e2f38"/>
<ellipse cx="421.0" cy="446.0" rx="1.15" ry="0.85" fill="#2e2f38"/>
<ellipse cx="424.5" cy="448.0" rx="1.15" ry="0.85" fill="#2e2f38"/>
<ellipse cx="428.0" cy="450.0" rx="1.15" ry="0.85" fill="#2e2f38"/>
<ellipse cx="416.0" cy="446.0" rx="1.15" ry="0.85" fill="#2e2f38"/>
<ellipse cx="419.5" cy="448.0" rx="1.15" ry="0.85" fill="#2e2f38"/>
<ellipse cx="423.0" cy="450.0" rx="1.15" ry="0.85" fill="#2e2f38"/>
<ellipse cx="426.5" cy="452.0" rx="1.15" ry="0.85" fill="#2e2f38"/>
<ellipse cx="430.0" cy="454.0" rx="1.15" ry="0.85" fill="#2e2f38"/>
<ellipse cx="401.5" cy="438.5" rx="1.15" ry="0.85" fill="#2e2f38"/>
<ellipse cx="405.2" cy="440.3" rx="1.15" ry="0.85" fill="#2e2f38"/>
<ellipse cx="408.8" cy="442.2" rx="1.15" ry="0.85" fill="#2e2f38"/>
<ellipse cx="412.5" cy="444.0" rx="1.15" ry="0.85" fill="#2e2f38"/>
<ellipse cx="351.0" cy="416.5" rx="1.15" ry="0.85" fill="#2e2f38"/>
<ellipse cx="355.5" cy="419.0" rx="1.15" ry="0.85" fill="#2e2f38"/>
<ellipse cx="360.0" cy="421.5" rx="1.15" ry="0.85" fill="#2e2f38"/>
<ellipse cx="352.0" cy="420.5" rx="1.15" ry="0.85" fill="#2e2f38"/>
<ellipse cx="356.5" cy="423.0" rx="1.15" ry="0.85" fill="#2e2f38"/>
<ellipse cx="361.0" cy="425.5" rx="1.15" ry="0.85" fill="#2e2f38"/>
<ellipse cx="449.5" cy="437.0" rx="1.15" ry="0.85" fill="#2e2f38"/>
<ellipse cx="452.8" cy="438.8" rx="1.15" ry="0.85" fill="#2e2f38"/>
<ellipse cx="456.0" cy="440.5" rx="1.15" ry="0.85" fill="#2e2f38"/>
<polygon points="172.8,478.0 238.5,515.4 238.5,517.9 172.8,480.5" fill="#6c6e80" />
<polygon points="238.5,515.4 344.8,454.7 344.8,457.2 238.5,517.9" fill="#8a8c9e" />
<polygon points="172.8,478.0 279.0,417.4 344.8,454.7 238.5,515.4" fill="#dde1f7" stroke="#4c4d5a" stroke-width="1" stroke-linejoin="round" />
<ellipse cx="177.5" cy="478" rx="2.2" ry="1.5" fill="#9a9cac" stroke="#444" stroke-width="0.8"/>
<ellipse cx="237.5" cy="510" rx="2.2" ry="1.5" fill="#9a9cac" stroke="#444" stroke-width="0.8"/>
<ellipse cx="339" cy="455" rx="2.2" ry="1.5" fill="#9a9cac" stroke="#444" stroke-width="0.8"/>
<polygon points="185.4,471.5 228.3,496.0 228.5,509.5 185.6,485.0" fill="#686a7e" stroke="#4c4d5a" stroke-width="0.8" stroke-linejoin="round" />
<polygon points="228.3,496.0 331.5,437.8 331.8,451.0 228.5,509.5" fill="#9a9cb0" stroke="#4c4d5a" stroke-width="0.8" stroke-linejoin="round" />
<line x1="185.6" y1="484.5" x2="228.5" y2="509" stroke="#3e3f4c" stroke-width="1.2"/>
<polygon points="185.4,471.5 288.6,412.3 331.5,437.8 228.3,496.0" fill="#dadef5" stroke="#4c4d5a" stroke-width="1" stroke-linejoin="round" />
<polyline points="185.4,471.5 228.3,496.0 331.5,437.8" fill="none" stroke="#2e2f3a" stroke-width="1.3" stroke-linejoin="round"/>
<line x1="228.3" y1="496" x2="228.5" y2="509.5" stroke="#3e3f4c" stroke-width="1.2"/>
<polygon points="204.8,469.5 287.6,422.5 312.1,436.8 232.4,483.8" fill="#e0e3f9" stroke="#4a4b5a" stroke-width="1" stroke-linejoin="round" />
<polygon points="315.7,484.1 386.7,524.6 386.7,549.5 328.4,516.5 328.4,511.0 321.0,506.8 321.0,511.0 315.7,508.0" fill="#636578" stroke="#4c4d5a" stroke-width="0.8" stroke-linejoin="round" />
<polygon points="386.7,524.6 421.5,504.7 421.5,529.6 386.7,549.5" fill="#9a9db0" stroke="#4c4d5a" stroke-width="0.8" stroke-linejoin="round" />
<polygon points="315.7,484.1 350.5,464.7 421.5,504.7 386.7,524.6" fill="#d9dcf1" stroke="#4c4d5a" stroke-width="0.9" stroke-linejoin="round" />
<polygon points="320.5,484.6 350.5,468.5 416.5,505.0 386.5,521.0" fill="#9c9eb2" stroke="#4a4c5a" stroke-width="0.8" stroke-linejoin="round" />
<polygon points="350.5,468.5 416.5,505.0 412.0,507.5 350.0,473.0" fill="#6e7083" />
<polygon points="320.5,484.6 350.5,468.5 350.0,473.0 325.0,487.0" fill="#9fa2b4" />
<polygon points="334.0,487.0 357.0,474.5 379.0,487.0 356.0,499.5" fill="#e0e3f8" stroke="#4c4d5a" stroke-width="0.6" stroke-linejoin="round" />
<polygon points="356.0,499.5 379.0,487.0 400.0,499.0 377.0,511.5" fill="#e3e6f9" stroke="#4c4d5a" stroke-width="0.6" stroke-linejoin="round" />
<polygon points="377.0,511.5 400.0,499.0 404.0,501.5 381.0,514.0" fill="#8c8ea0" />
<line x1="383.0" y1="513.0" x2="386.0" y2="515.0" stroke="#4a4c5a" stroke-width="0.7"/>
<line x1="386.5" y1="511.1" x2="389.5" y2="513.1" stroke="#4a4c5a" stroke-width="0.7"/>
<line x1="390.0" y1="509.2" x2="393.0" y2="511.2" stroke="#4a4c5a" stroke-width="0.7"/>
<line x1="393.5" y1="507.3" x2="396.5" y2="509.3" stroke="#4a4c5a" stroke-width="0.7"/>
<line x1="397.0" y1="505.4" x2="400.0" y2="507.4" stroke="#4a4c5a" stroke-width="0.7"/>
<line x1="400.5" y1="503.5" x2="403.5" y2="505.5" stroke="#4a4c5a" stroke-width="0.7"/>
<polygon points="330.0,481.0 341.0,475.0 345.0,477.5 334.0,483.5" fill="#eef0f8" stroke="#4c4d5a" stroke-width="0.6" stroke-linejoin="round" />
<rect x="268.85" y="89.85" width="76.00" height="24.80" fill="#fff" stroke="#000" stroke-width="1.5"/>
<text transform="translate(306.15,106.65) scale(1,1.05)" x="0" y="0" text-anchor="middle">ACS712</text>
<rect x="731.85" y="89.85" width="76.00" height="24.80" fill="#fff" stroke="#000" stroke-width="1.5"/>
<text transform="translate(769.15,106.65) scale(1,1.05)" x="0" y="0" text-anchor="middle">Cover</text>
<rect x="217.15" y="166.85" width="115.00" height="25.10" fill="#fff" stroke="#000" stroke-width="1.5"/>
<text transform="translate(273.95,183.80) scale(1,1.05)" x="0" y="0" text-anchor="middle">Arduino Uno</text>
<rect x="50.15" y="244.15" width="127.80" height="24.90" fill="#fff" stroke="#000" stroke-width="1.5"/>
<text transform="translate(113.35,261.00) scale(1,1.05)" x="0" y="0" text-anchor="middle">SD Card Module</text>
<rect x="63.05" y="296.05" width="114.50" height="37.40" fill="#fff" stroke="#000" stroke-width="1.5"/>
<text transform="translate(119.60,309.65) scale(1,1.05)" x="0" y="0" text-anchor="middle">Max6675</text>
<text transform="translate(119.60,328.65) scale(1,1.05)" x="0" y="0" text-anchor="middle">Thermocouple</text>
<rect x="101.65" y="359.75" width="63.50" height="24.90" fill="#fff" stroke="#000" stroke-width="1.5"/>
<text transform="translate(132.70,376.60) scale(1,1.05)" x="0" y="0" text-anchor="middle">SS49E</text>
<rect x="50.15" y="424.15" width="127.70" height="24.90" fill="#fff" stroke="#000" stroke-width="1.5"/>
<text transform="translate(113.30,441.00) scale(1,1.05)" x="0" y="0" text-anchor="middle">LCD I2C 20x4</text>
<rect x="50.15" y="501.55" width="114.90" height="24.70" fill="#fff" stroke="#000" stroke-width="1.5"/>
<text transform="translate(106.90,518.30) scale(1,1.05)" x="0" y="0" text-anchor="middle">9V Battery Clip</text>
<rect x="88.85" y="552.85" width="102.10" height="25.00" fill="#fff" stroke="#000" stroke-width="1.5"/>
<text transform="translate(139.20,569.75) scale(1,1.05)" x="0" y="0" text-anchor="middle">9V Battery</text>
<rect x="500.05" y="540.05" width="127.80" height="24.50" fill="#fff" stroke="#000" stroke-width="1.5"/>
<text transform="translate(563.25,556.70) scale(1,1.05)" x="0" y="0" text-anchor="middle">Cover Battery</text>
<rect x="667.25" y="514.15" width="50.80" height="24.80" fill="#fff" stroke="#000" stroke-width="1.5"/>
<text transform="translate(691.95,530.95) scale(1,1.05)" x="0" y="0" text-anchor="middle">PCB</text>
<rect x="718.85" y="450.15" width="127.80" height="24.40" fill="#fff" stroke="#000" stroke-width="1.5"/>
<text transform="translate(782.05,466.75) scale(1,1.05)" x="0" y="0" text-anchor="middle">On/Off Switch</text>
<rect x="770.15" y="373.15" width="127.50" height="24.40" fill="#fff" stroke="#000" stroke-width="1.5"/>
<text transform="translate(833.20,389.75) scale(1,1.05)" x="0" y="0" text-anchor="middle">Male Header Pin</text>
<line x1="346" y1="103" x2="506.0961528038827" y2="287.2070191900096" stroke="#000" stroke-width="1.5"/>
<polygon points="512.0,294.0 500.4,288.2 506.1,287.2 507.9,281.7" fill="#000" />
<line x1="731" y1="103" x2="596.9744227247409" y2="212.31164104010497" stroke="#000" stroke-width="1.5"/>
<polygon points="590.0,218.0 596.1,206.5 597.0,212.3 602.5,214.3" fill="#000" />
<line x1="333" y1="180" x2="454.5313508630273" y2="338.852001915453" stroke="#000" stroke-width="1.5"/>
<polygon points="460.0,346.0 448.7,339.5 454.5,338.9 456.7,333.4" fill="#000" />
<line x1="178" y1="256" x2="426.79689233214924" y2="368.29743000205957" stroke="#000" stroke-width="1.5"/>
<polygon points="435.0,372.0 422.0,371.6 426.8,368.3 426.1,362.5" fill="#000" />
<line x1="178" y1="315" x2="336.1417957331228" y2="343.4087058203215" stroke="#000" stroke-width="1.5"/>
<polygon points="345.0,345.0 332.3,347.8 336.1,343.4 334.1,338.0" fill="#000" />
<line x1="178" y1="315" x2="297.7783469501379" y2="368.33879512623326" stroke="#000" stroke-width="1.5"/>
<polygon points="306.0,372.0 293.0,371.7 297.8,368.3 297.1,362.6" fill="#000" />
<line x1="166" y1="372" x2="490.02730804528176" y2="397.29942945698895" stroke="#000" stroke-width="1.5"/>
<polygon points="499.0,398.0 486.6,402.1 490.0,397.3 487.4,392.1" fill="#000" />
<line x1="178" y1="437" x2="258.3104015704874" y2="458.6567375021539" stroke="#000" stroke-width="1.5"/>
<polygon points="267.0,461.0 254.1,462.7 258.3,458.7 256.7,453.0" fill="#000" />
<line x1="166" y1="513" x2="323.10036085686403" y2="489.3403070998699" stroke="#000" stroke-width="1.5"/>
<polygon points="332.0,488.0 320.9,494.7 323.1,489.3 319.4,484.8" fill="#000" />
<line x1="192" y1="565" x2="362.540480189069" y2="503.07189266877384" stroke="#000" stroke-width="1.5"/>
<polygon points="371.0,500.0 361.4,508.8 362.5,503.1 358.0,499.4" fill="#000" />
<line x1="499" y1="553" x2="419.6041223696229" y2="528.6399011815888" stroke="#000" stroke-width="1.5"/>
<polygon points="411.0,526.0 423.9,524.7 419.6,528.6 421.0,534.3" fill="#000" />
<line x1="667" y1="526" x2="595.6484385321304" y2="407.70662177695294" stroke="#000" stroke-width="1.5"/>
<polygon points="591.0,400.0 601.5,407.7 595.6,407.7 592.9,412.9" fill="#000" />
<line x1="667" y1="526" x2="432.579571801356" y2="451.7186297477548" stroke="#000" stroke-width="1.5"/>
<polygon points="424.0,449.0 436.9,447.9 432.6,451.7 433.9,457.4" fill="#000" />
<line x1="718" y1="462" x2="522.8555229177238" y2="426.6061487644891" stroke="#000" stroke-width="1.5"/>
<polygon points="514.0,425.0 526.7,422.2 522.9,426.6 524.9,432.1" fill="#000" />
<line x1="769" y1="385" x2="623.9681034112136" y2="372.757047690557" stroke="#000" stroke-width="1.5"/>
<polygon points="615.0,372.0 627.4,368.0 624.0,372.8 626.5,378.0" fill="#000" />
</svg></body></html>
